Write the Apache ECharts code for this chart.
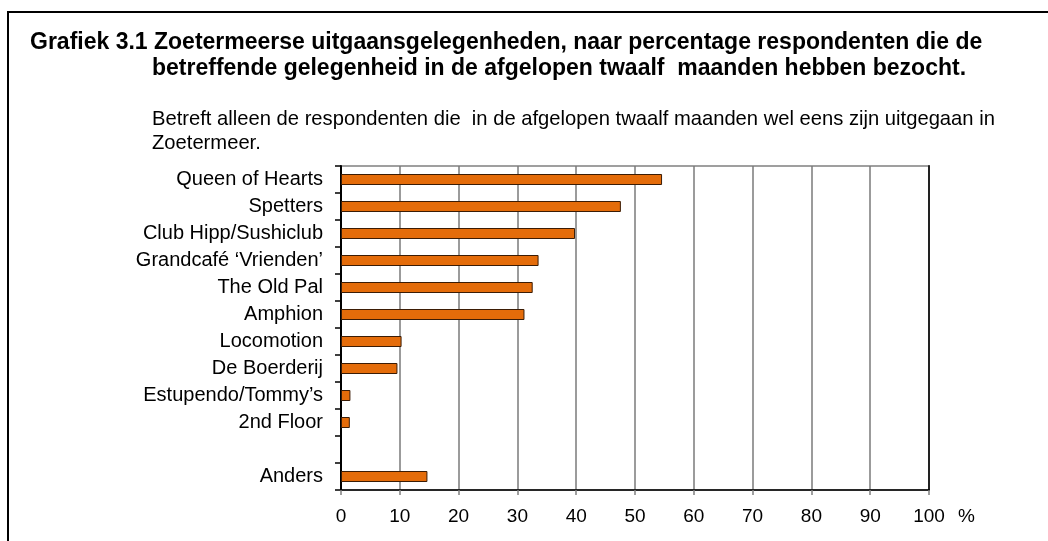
<!DOCTYPE html>
<html>
<head>
<meta charset="utf-8">
<script src="https://cdn.jsdelivr.net/npm/echarts@6/dist/echarts.min.js"></script>
<style>
  html, body { margin: 0; padding: 0; background: #fff; }
  #chart { width: 1048px; height: 541px; }
</style>
</head>
<body>
<div id="chart"></div>
<script>
// gelegenheden (lege regel tussen 2nd Floor en Anders)
const categories = [
  'Queen of Hearts', 'Spetters', 'Club Hipp/Sushiclub', 'Grandcafé ‘Vrienden’',
  'The Old Pal', 'Amphion', 'Locomotion', 'De Boerderij',
  'Estupendo/Tommy’s', '2nd Floor', '', 'Anders'
];
// percentage respondenten
const values = [54.6, 47.6, 39.8, 33.6, 32.6, 31.2, 10.3, 9.6, 1.6, 1.5, null, 14.7];
const xTicks = [0, 10, 20, 30, 40, 50, 60, 70, 80, 90, 100];

const FONT = '"Liberation Sans", Arial, sans-serif';

const chart = echarts.init(document.getElementById('chart'), null, { renderer: 'canvas' });

const option = {
  animation: false,
  backgroundColor: '#fff',
  title: [
    {
      text: 'Grafiek 3.1 Zoetermeerse uitgaansgelegenheden, naar percentage respondenten die de',
      left: 25, top: 27,
      textStyle: { fontFamily: FONT, fontSize: 23, fontWeight: 'bold', color: '#000', lineHeight: 22 }
    },
    {
      text: 'betreffende gelegenheid in de afgelopen twaalf  maanden hebben bezocht.',
      left: 147, top: 53,
      textStyle: { fontFamily: FONT, fontSize: 23, fontWeight: 'bold', color: '#000', lineHeight: 22 }
    },
    {
      text: 'Betreft alleen de respondenten die  in de afgelopen twaalf maanden wel eens zijn uitgegaan in\nZoetermeer.',
      left: 147, top: 102,
      textStyle: { fontFamily: FONT, fontSize: 20.2, fontWeight: 'normal', color: '#000', lineHeight: 24 }
    }
  ],
  graphic: [
    {
      type: 'polyline',
      shape: { points: [[8, 541], [8, 12], [1048, 12]] },
      style: { stroke: '#000', lineWidth: 2, fill: null }
    }
  ],
  grid: {
    left: 341, right: 119, top: 166, bottom: 51,
    show: true, borderColor: '#808080', borderWidth: 1.5
  },
  xAxis: {
    type: 'value',
    min: 0, max: 100, interval: 10,
    name: '%',
    nameLocation: 'end',
    nameGap: 29,
    nameTextStyle: { fontFamily: FONT, fontSize: 19, color: '#000', verticalAlign: 'top', padding: [17, 0, 0, 0] },
    axisLine: { show: true, lineStyle: { color: '#000', width: 1.5 } },
    axisTick: { show: true, length: 5, lineStyle: { color: '#808080', width: 1.5 } },
    axisLabel: {
      fontFamily: FONT, fontSize: 19, color: '#000', margin: 17,
      formatter: (v) => xTicks.includes(v) ? String(v) : ''
    },
    splitLine: { show: true, lineStyle: { color: '#7a7a7a', width: 1.5 } }
  },
  yAxis: [
    {
      type: 'category',
      data: categories,
      inverse: true,
      axisLine: { show: true, lineStyle: { color: '#000', width: 2 } },
      axisTick: { show: true, length: 6, lineStyle: { color: '#000', width: 1.5 } },
      axisLabel: { fontFamily: FONT, fontSize: 20, color: '#000', margin: 18 },
      splitLine: { show: false }
    },
    {
      // rechterrand van het plotvlak
      type: 'category',
      data: categories,
      inverse: true,
      position: 'right',
      axisLine: { show: true, lineStyle: { color: '#222', width: 2 } },
      axisTick: { show: false },
      axisLabel: { show: false },
      splitLine: { show: false }
    }
  ],
  series: [
    {
      type: 'bar',
      data: values,
      yAxisIndex: 0,
      barWidth: 11,
      itemStyle: { color: '#E46C0A', borderColor: '#3b1c05', borderWidth: 1 }
    }
  ]
};

chart.setOption(option);
</script>
</body>
</html>
